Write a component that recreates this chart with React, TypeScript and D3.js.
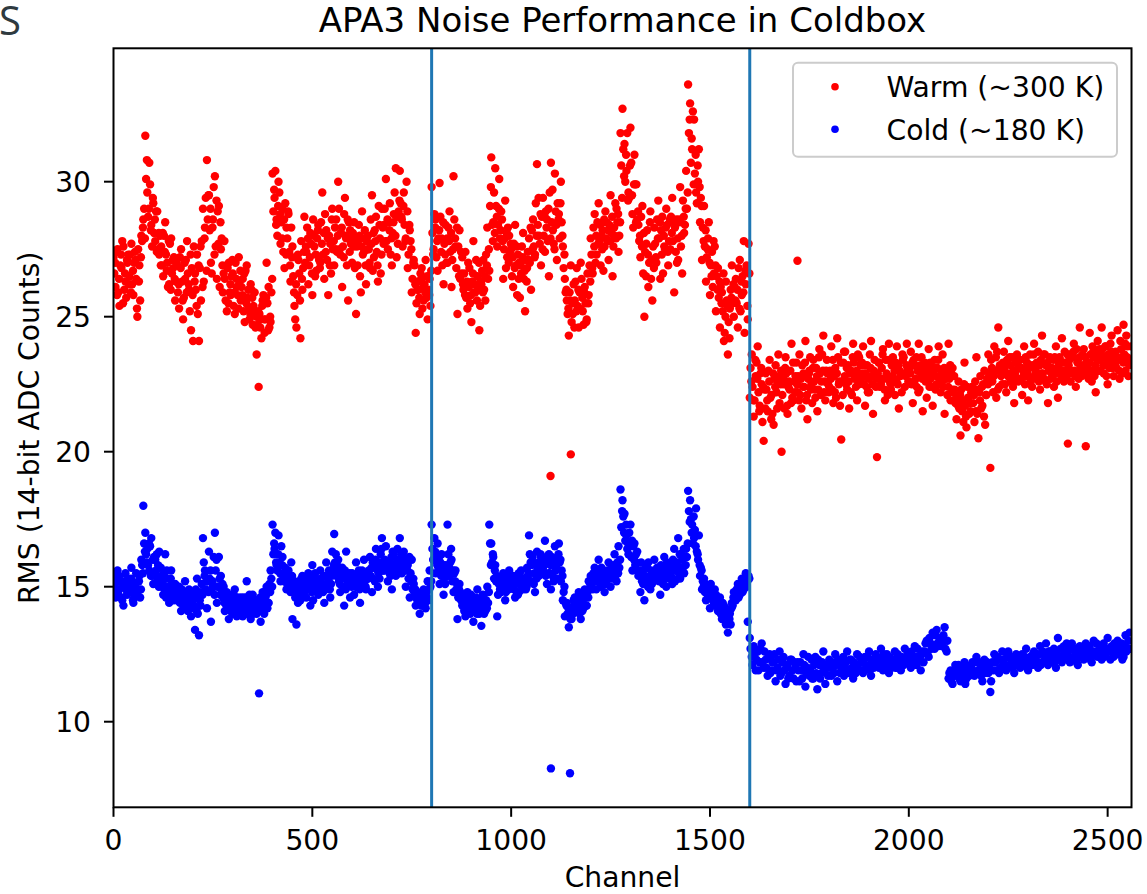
import React from "react";
import * as d3 from "d3";

// ---------- data (RMS noise per channel) ----------
// series A: channels 0, 5, 10, ... ; B: channels 2, 7, 12, ... ; C: channels 4, 9, 14, ...
const CHANNEL_STEP = 5;
const CHANNEL_OFFSET_B = 2;
const CHANNEL_OFFSET_C = 4;

const warmValues: number[] = [
  27.2, 26.1, 27.5, 25.4, 26.8, 27.6, 26.3, 27.0,
  26.5, 27.7, 25.8, 27.1, 25.0, 26.9, 28.0, 28.6,
  31.7, 29.6, 30.7, 28.4, 29.2, 27.8, 28.9, 27.3,
  27.6, 26.5, 28.5, 27.0, 26.2, 27.9, 26.8, 25.6,
  26.9, 25.3, 27.5, 24.9, 26.4, 27.8, 26.0, 24.5,
  24.1, 26.6, 27.3, 24.1, 25.6, 29.0, 28.3, 30.8,
  29.5, 27.0, 28.6, 30.2, 26.4, 29.1, 27.5, 25.9,
  26.4, 25.2, 27.0, 25.8, 26.6, 25.1, 26.1, 27.2,
  25.6, 26.4, 24.8, 26.9, 25.3, 26.2, 24.7, 25.9,
  23.6, 22.4, 24.9, 25.6, 24.4, 27.0, 26.1, 24.8,
  30.3, 29.4, 28.6, 30.0, 27.7, 29.0, 26.8, 28.3,
  28.8, 26.3, 27.6, 25.4, 24.6, 27.1, 24.2, 26.0,
  28.7, 27.4, 26.2, 28.1, 25.8, 27.6, 26.7, 28.4,
  27.0, 29.6, 26.4, 28.2, 25.8, 27.7, 29.0, 26.9,
  28.6, 30.0, 27.3, 26.1, 28.8, 27.9, 25.6, 28.2,
  27.0, 28.5, 25.1, 27.8, 26.5, 28.9, 27.4, 26.2,
  28.0, 26.8, 29.5, 27.2, 28.7, 26.3, 27.9, 29.0,
  28.4, 30.1, 27.5, 29.2, 26.9, 28.8, 30.5, 27.7,
  30.4, 28.6, 29.6, 27.9, 26.8, 28.2, 25.9, 27.1,
  24.4, 26.3, 25.1, 26.8, 25.6, 27.1, 24.9, 26.4,
  29.8, 27.5, 28.6, 26.7, 29.95, 27.9, 26.2, 28.4,
  27.0, 28.9, 26.1, 30.2, 27.6, 25.1, 28.2, 26.6,
  26.0, 27.4, 25.3, 26.8, 24.8, 27.8, 25.9, 26.5,
  24.5, 26.2, 27.1, 25.6, 28.3, 26.7, 30.9, 28.5,
  30.5, 27.6, 30.1, 28.9, 26.4, 29.3, 27.2, 28.0,
  27.5, 26.1, 28.4, 25.8, 27.0, 26.6, 28.1, 25.2,
  26.8, 27.9, 26.0, 28.6, 27.3, 30.65, 28.0, 26.9,
  29.4, 27.4, 28.6, 26.5, 30.7, 28.2, 30.3, 27.1,
  28.8, 30.0, 27.6, 26.4, 25.6, 24.3, 26.9, 25.1,
  25.6, 26.8, 24.6, 27.0, 25.2, 26.1, 24.9, 25.8,
  27.9, 26.6, 28.8, 27.3, 29.2, 26.9, 28.2, 27.6,
  28.5, 27.1, 29.5, 26.5, 28.0, 29.0, 27.4, 31.8,
  32.7, 31.4, 30.4, 29.6, 32.0, 28.8, 31.0, 29.9,
  28.4, 27.2, 29.1, 25.0, 27.7, 26.1, 28.9, 25.6,
  28.3, 27.0, 29.3, 26.4, 28.7, 27.6, 29.0, 26.9,
  27.5, 29.4, 25.9, 28.6, 27.1, 29.8, 26.6, 28.1,
  30.4, 33.6, 32.9, 31.2, 32.3, 29.6, 30.0, 28.5,
  27.1, 29.1, 26.3, 27.9, 25.8, 27.4, 26.6, 25.2,
  26.8, 24.6, 25.9, 24.1, 26.3, 23.6, 25.3, 26.9,
  25.0, 26.4, 24.6, 27.1, 25.8, 27.8, 26.2, 24.9,
  22.0, 23.6, 21.3, 22.8, 23.9, 21.7, 22.5, 20.4,
  22.9, 21.5, 23.4, 22.1, 21.0, 23.2, 22.6, 21.8,
  20.0, 22.7, 23.5, 21.4, 22.3, 24.0, 21.9, 22.8,
  22.2, 23.6, 21.6, 22.9, 24.1, 21.2, 23.0, 22.5,
  23.4, 22.0, 21.5, 23.8, 22.6, 24.3, 21.9, 22.9,
  22.4, 23.9, 21.8, 23.1, 24.2, 22.6, 20.45, 23.3,
  23.7, 22.3, 21.6, 23.0, 24.0, 22.8, 21.9, 23.5,
  22.7, 23.9, 21.7, 23.2, 22.2, 24.1, 21.4, 22.9,
  19.8, 23.3, 22.5, 23.8, 21.9, 22.8, 24.0, 22.3,
  23.5, 22.1, 23.9, 21.6, 22.9, 23.4, 22.4, 24.0,
  22.6, 23.7, 21.8, 23.2, 22.4, 24.0, 22.9, 21.5,
  23.3, 22.0, 23.8, 22.7, 21.7, 23.4, 22.5, 23.9,
  22.2, 23.6, 21.4, 22.8, 24.0, 21.9, 23.1, 22.3,
  21.2, 22.6, 20.6, 21.9, 23.3, 20.9, 22.0, 21.5,
  22.4, 21.1, 23.5, 20.5, 22.8, 21.7, 23.0, 22.1,
  23.6, 19.4, 22.6, 23.9, 22.0, 24.6, 23.1, 22.5,
  23.0, 22.2, 24.1, 22.7, 23.5, 21.8, 23.3, 22.6,
  23.4, 22.1, 23.9, 22.8, 21.9, 23.6, 22.4, 24.0,
  22.9, 23.7, 22.3, 24.3, 22.7, 23.2, 21.8, 23.5,
  23.1, 22.4, 23.9, 22.0, 23.4, 24.2, 22.6, 23.3,
  20.3, 23.6, 22.9, 24.0, 22.4, 23.3, 24.6, 22.8,
  23.8, 20.2, 23.1, 24.4, 22.6, 23.5, 22.2, 24.1,
  23.4, 24.6, 22.9, 23.9, 22.5, 23.2, 24.3, 22.8,
  23.7, 24.5, 22.7, 23.5, 24.7, 23.0, 23.9, 23.3,
];

const warmValuesB: number[] = [
  26.6, 27.4, 25.9, 26.9, 27.8, 26.0, 25.7, 27.3,
  27.3, 26.2, 27.0, 26.4, 27.5, 25.6, 27.8, 29.0,
  30.1, 28.7, 29.9, 27.6, 28.1, 28.9, 27.5, 28.0,
  26.9, 28.0, 27.3, 26.1, 27.7, 26.6, 27.2, 26.3,
  25.9, 27.2, 26.3, 25.7, 27.1, 26.6, 25.2, 26.8,
  27.6, 26.0, 25.1, 26.8, 27.8, 26.3, 29.4, 28.6,
  28.2, 26.6, 29.8, 27.6, 28.9, 26.1, 27.9, 26.6,
  25.6, 26.8, 25.9, 26.5, 25.4, 27.0, 25.8, 26.3,
  26.1, 25.2, 26.7, 25.7, 24.9, 26.0, 25.4, 24.6,
  24.7, 25.1, 24.2, 25.8, 24.9, 25.5, 24.6, 25.9,
  28.9, 30.4, 28.0, 29.6, 28.5, 27.4, 29.2, 27.9,
  27.4, 28.3, 26.5, 24.9, 25.8, 26.6, 27.8, 26.8,
  27.0, 28.3, 26.9, 27.7, 28.6, 26.5, 27.9, 27.1,
  28.5, 27.3, 28.8, 27.1, 28.0, 26.6, 27.5, 28.3,
  27.4, 29.0, 28.1, 27.6, 29.4, 26.9, 28.5, 27.7,
  28.1, 26.8, 27.6, 28.4, 25.9, 27.3, 28.2, 27.8,
  27.5, 28.6, 26.7, 28.2, 27.4, 29.1, 26.6, 28.3,
  29.0, 27.8, 28.5, 27.3, 28.1, 29.6, 27.2, 28.9,
  29.2, 27.6, 28.4, 30.0, 27.3, 27.8, 26.4, 26.9,
  25.5, 26.0, 26.6, 25.3, 26.2, 25.7, 26.0, 25.4,
  28.1, 28.8, 27.2, 27.9, 28.7, 26.9, 27.7, 27.0,
  28.3, 27.4, 27.1, 28.6, 26.8, 27.6, 26.4, 27.2,
  26.6, 25.7, 27.0, 25.5, 26.3, 25.9, 27.1, 26.0,
  25.4, 26.7, 26.0, 27.3, 26.4, 29.1, 28.4, 29.6,
  29.1, 28.4, 27.9, 28.6, 27.5, 26.8, 28.3, 27.4,
  26.5, 27.7, 26.9, 27.3, 25.7, 27.6, 26.4, 27.1,
  27.4, 27.0, 28.2, 27.6, 29.2, 28.4, 27.7, 28.7,
  28.0, 28.9, 27.8, 29.6, 28.5, 27.7, 28.9, 29.2,
  27.9, 28.5, 26.8, 25.9, 25.1, 25.9, 24.8, 26.2,
  26.3, 25.4, 25.9, 26.4, 24.7, 25.5, 26.6, 26.9,
  27.3, 28.3, 27.0, 28.5, 27.8, 28.0, 26.7, 28.9,
  27.8, 28.4, 28.1, 27.6, 29.2, 28.5, 28.0, 30.6,
  31.2, 30.0, 31.8, 29.4, 30.7, 28.3, 29.9, 28.6,
  27.8, 28.7, 26.6, 27.4, 28.2, 27.0, 26.4, 27.6,
  27.7, 28.6, 27.9, 28.2, 26.6, 27.5, 28.4, 27.8,
  28.7, 27.8, 28.3, 27.0, 28.6, 27.6, 29.3, 28.4,
  29.0, 31.8, 30.7, 32.6, 30.3, 29.2, 31.2, 29.4,
  28.3, 27.6, 27.2, 28.5, 26.9, 26.1, 27.6, 26.5,
  25.7, 26.1, 25.2, 24.4, 25.6, 24.8, 26.0, 25.5,
  26.1, 25.5, 26.8, 25.2, 26.5, 24.4, 26.9, 27.7,
  23.1, 22.4, 21.9, 23.3, 22.2, 22.9, 21.1, 22.3,
  22.3, 23.0, 22.0, 21.4, 22.7, 22.2, 23.6, 22.5,
  22.1, 21.6, 22.9, 22.4, 23.0, 22.0, 22.6, 23.3,
  22.8, 22.1, 23.2, 22.4, 21.9, 22.7, 23.5, 21.8,
  22.6, 23.1, 22.3, 22.9, 23.6, 22.2, 23.0, 22.5,
  23.0, 22.3, 22.8, 22.0, 23.5, 21.7, 22.6, 23.7,
  22.5, 23.2, 22.9, 22.1, 23.3, 22.4, 23.6, 22.7,
  23.3, 22.5, 22.9, 22.2, 23.6, 22.8, 23.0, 22.4,
  22.9, 22.4, 23.1, 22.7, 23.4, 22.1, 22.6, 23.2,
  22.7, 23.3, 22.5, 23.0, 22.2, 23.5, 22.8, 23.1,
  23.1, 22.5, 23.4, 22.7, 23.0, 22.3, 23.5, 22.8,
  22.6, 23.2, 22.4, 23.0, 22.9, 22.3, 23.1, 22.7,
  22.9, 22.4, 23.0, 22.1, 22.7, 22.9, 22.2, 21.8,
  22.0, 21.6, 22.3, 21.1, 21.7, 22.4, 21.4, 22.2,
  21.8, 22.6, 21.4, 22.2, 21.6, 22.5, 21.0, 22.7,
  22.9, 23.4, 22.2, 23.0, 23.7, 22.4, 22.8, 23.3,
  22.5, 23.4, 22.9, 23.2, 22.4, 22.9, 23.6, 23.1,
  22.7, 23.0, 22.5, 23.3, 23.1, 22.6, 23.2, 22.8,
  23.3, 22.6, 23.4, 22.9, 23.6, 22.5, 23.0, 22.7,
  22.8, 23.5, 22.6, 23.2, 22.9, 23.0, 23.7, 22.8,
  23.2, 22.6, 23.5, 23.0, 23.8, 22.7, 23.1, 23.6,
  22.9, 23.3, 22.7, 23.6, 23.9, 22.8, 23.6, 23.0,
  23.0, 23.8, 23.5, 22.8, 23.6, 24.0, 23.1, 23.6,
  23.1, 23.4, 24.1, 22.9, 23.6, 24.3, 22.8, 23.4,
];

const warmValuesC: number[] = [
  27.0, 25.8, 26.4, 27.3, 25.5, 26.6, 27.1, 26.2,
  25.9, 26.7, 27.4, 25.3, 26.3, 27.2, 28.3, 27.9,
  30.8, 29.0, 28.2, 29.4, 28.6, 27.4, 28.1, 26.9,
  28.1, 27.4, 26.7, 27.8, 26.0, 27.1, 26.4, 27.0,
  26.2, 26.8, 25.6, 27.0, 25.9, 26.2, 27.3, 25.8,
  26.3, 25.4, 26.9, 27.6, 26.1, 27.9, 26.7, 29.5,
  29.0, 28.3, 27.3, 29.3, 27.7, 28.5, 26.9, 27.8,
  26.9, 25.5, 26.2, 27.1, 25.9, 26.4, 25.3, 26.7,
  25.8, 26.6, 25.5, 26.0, 25.1, 25.7, 25.2, 25.0,
  25.2, 24.6, 25.4, 24.9, 25.7, 24.5, 25.0, 26.4,
  29.7, 28.4, 29.1, 28.8, 27.9, 28.6, 27.3, 28.9,
  26.9, 27.2, 25.9, 26.2, 27.3, 25.6, 26.4, 27.4,
  27.6, 27.9, 27.2, 26.6, 28.0, 27.3, 28.2, 26.8,
  27.7, 28.1, 27.4, 27.9, 26.9, 28.6, 27.8, 27.5,
  28.0, 27.5, 28.3, 27.2, 28.0, 28.6, 27.4, 27.9,
  27.6, 27.9, 26.9, 28.0, 27.6, 27.9, 26.9, 27.5,
  27.0, 27.7, 28.1, 27.8, 26.9, 28.4, 27.3, 27.7,
  27.8, 28.6, 28.2, 27.9, 28.5, 28.0, 28.7, 29.3,
  28.7, 29.1, 27.8, 28.9, 28.4, 27.5, 27.0, 26.2,
  26.0, 25.7, 26.4, 26.1, 25.9, 26.5, 25.8, 26.7,
  27.3, 28.3, 27.8, 28.2, 27.4, 28.5, 27.3, 27.9,
  27.8, 28.1, 27.5, 27.9, 28.3, 26.5, 27.4, 26.2,
  25.8, 26.3, 26.1, 25.8, 26.6, 26.2, 25.6, 27.0,
  26.3, 25.9, 26.5, 26.9, 27.5, 29.8, 27.8, 28.1,
  28.7, 29.0, 28.2, 27.8, 27.9, 28.1, 27.0, 27.7,
  27.2, 26.8, 27.6, 26.4, 26.9, 27.2, 26.7, 26.3,
  27.1, 28.3, 27.5, 27.2, 28.0, 29.4, 28.8, 27.5,
  28.7, 28.3, 29.0, 27.9, 29.7, 27.5, 28.4, 28.6,
  29.2, 28.0, 27.3, 26.0, 25.3, 25.6, 25.5, 24.6,
  25.2, 26.0, 25.3, 25.7, 25.9, 24.8, 25.5, 26.3,
  26.8, 27.6, 28.0, 27.7, 28.4, 27.5, 28.6, 27.9,
  28.2, 27.8, 28.7, 28.3, 27.9, 28.8, 28.5, 29.4,
  30.2, 31.0, 29.3, 30.6, 29.5, 29.9, 28.5, 28.9,
  28.0, 27.6, 28.1, 26.5, 27.3, 28.5, 27.1, 26.8,
  27.2, 27.9, 28.5, 27.3, 28.0, 28.3, 27.4, 28.6,
  28.1, 28.5, 27.4, 27.9, 28.5, 28.0, 28.7, 29.0,
  29.6, 32.3, 31.6, 29.9, 31.0, 30.6, 29.8, 29.1,
  27.8, 28.2, 27.5, 27.0, 26.5, 27.8, 26.9, 26.0,
  26.3, 25.5, 26.6, 25.0, 25.4, 24.2, 25.7, 26.2,
  25.6, 26.0, 25.3, 26.3, 25.9, 26.7, 25.4, 26.6,
  22.6, 21.9, 23.4, 22.7, 21.5, 23.1, 22.4, 21.6,
  21.9, 22.6, 21.2, 22.9, 22.4, 21.6, 22.8, 23.0,
  22.5, 23.1, 21.7, 22.6, 21.8, 23.3, 22.2, 22.5,
  21.9, 22.7, 22.4, 23.3, 22.1, 22.9, 22.3, 23.1,
  22.3, 22.8, 23.5, 22.1, 23.0, 22.6, 23.4, 22.2,
  22.7, 23.4, 22.2, 22.9, 22.5, 23.3, 22.1, 22.8,
  23.1, 22.6, 22.2, 23.5, 22.7, 23.0, 22.5, 23.2,
  22.9, 23.2, 22.4, 22.7, 23.1, 22.5, 23.4, 22.7,
  23.3, 22.7, 23.6, 22.3, 22.9, 23.4, 22.5, 22.8,
  23.0, 22.6, 23.2, 22.8, 23.6, 22.9, 23.2, 22.6,
  22.9, 23.3, 22.6, 23.5, 22.2, 23.2, 22.7, 23.1,
  22.9, 22.6, 23.3, 22.4, 23.1, 22.8, 23.4, 22.5,
  22.6, 23.1, 22.7, 22.4, 23.2, 22.3, 22.8, 22.0,
  21.7, 22.1, 21.5, 22.5, 21.3, 22.0, 21.8, 22.4,
  22.1, 21.5, 22.3, 21.9, 22.4, 21.3, 22.1, 22.5,
  22.6, 23.1, 22.8, 23.5, 22.3, 23.2, 22.9, 23.7,
  23.2, 22.8, 23.5, 22.6, 23.0, 23.3, 22.7, 23.4,
  23.1, 22.8, 23.5, 22.9, 23.2, 22.7, 23.6, 23.0,
  22.8, 23.2, 22.9, 23.6, 22.6, 23.3, 23.1, 22.9,
  23.4, 22.9, 23.1, 23.5, 22.7, 23.3, 23.0, 23.6,
  23.4, 23.0, 23.7, 22.8, 23.3, 23.5, 22.9, 23.2,
  23.5, 22.9, 23.3, 23.0, 23.7, 23.2, 23.4, 23.8,
  23.6, 23.2, 23.9, 23.4, 23.1, 23.7, 23.4, 23.2,
  23.5, 23.0, 23.8, 23.3, 24.0, 23.5, 23.2, 23.9,
];

const coldValues: number[] = [
  15.3, 14.6, 15.6, 14.9, 15.2, 14.3, 15.5, 14.8,
  15.0, 15.7, 14.4, 15.1, 14.7, 15.4, 16.0, 18.0,
  17.0, 16.4, 15.6, 16.8, 15.1, 16.0, 15.3, 16.3,
  15.4, 14.7, 16.2, 15.0, 14.4, 15.6, 14.8, 15.1,
  14.5, 15.0, 14.1, 14.7, 15.2, 14.3, 14.9, 13.9,
  14.6, 13.4, 15.3, 13.2, 14.8, 16.8, 15.6, 14.2,
  16.3, 13.7, 15.0, 17.0, 14.4, 16.1, 15.4, 14.6,
  14.1, 14.8, 13.8, 14.5, 14.0, 14.9, 13.9, 14.4,
  14.6, 13.9, 14.3, 15.2, 14.1, 13.8, 14.7, 14.2,
  14.0, 14.5, 13.7, 14.8, 14.2, 15.0, 14.4, 15.6,
  17.3, 16.4, 15.8, 16.9, 15.2, 16.1, 15.5, 14.9,
  15.6, 14.8, 13.8, 15.2, 13.6, 15.0, 14.5, 15.4,
  15.1, 14.6, 15.5, 14.3, 15.8, 14.9, 15.3, 14.7,
  15.6, 15.0, 14.4, 15.9, 15.2, 14.6, 16.3, 16.95,
  15.4, 16.0, 14.8, 15.7, 14.3, 16.3, 15.1, 14.6,
  15.5, 14.7, 15.9, 15.2, 14.4, 15.6, 16.0, 14.9,
  15.3, 16.1, 14.8, 15.7, 16.4, 15.0, 15.9, 16.8,
  15.6, 16.5, 15.2, 15.9, 14.9, 16.2, 15.4, 16.0,
  16.8, 15.5, 16.3, 15.0, 15.8, 14.6, 16.0, 15.1,
  14.3, 14.8, 14.0, 14.6, 14.9, 14.2, 15.2, 15.6,
  17.3, 16.0, 15.5, 16.6, 15.1, 16.2, 14.7, 15.8,
  17.3, 15.4, 16.0, 14.8, 15.6, 13.8, 15.1, 14.6,
  14.4, 13.9, 14.8, 14.2, 14.6, 13.7, 14.3, 14.9,
  14.0, 13.55, 14.6, 14.1, 15.0, 17.3, 16.6, 16.1,
  15.8, 13.9, 15.3, 14.8, 15.5, 14.5, 15.1, 15.6,
  15.0, 15.4, 14.6, 15.2, 14.8, 15.6, 14.9, 15.3,
  15.7, 16.9, 15.2, 15.9, 14.8, 16.3, 15.4, 16.1,
  15.6, 16.7, 15.1, 16.2, 14.9, 15.8, 16.5, 15.3,
  16.6, 15.2, 14.5, 13.9, 14.4, 13.5, 14.2, 14.0,
  14.6, 14.1, 14.8, 13.8, 14.5, 14.9, 14.3, 15.2,
  15.4, 14.9, 15.7, 15.2, 16.0, 15.0, 15.5, 14.8,
  15.3, 15.9, 15.0, 15.6, 16.2, 15.2, 16.5, 18.6,
  18.2, 17.7, 16.9, 16.2, 17.3, 15.6, 16.6, 15.9,
  15.4, 14.8, 15.6, 14.5, 15.2, 15.9, 14.9, 15.3,
  16.0, 15.3, 15.7, 14.7, 15.5, 16.1, 15.0, 15.4,
  15.8, 15.1, 16.4, 15.6, 16.8, 15.3, 16.0, 15.5,
  16.4, 18.55, 18.2, 17.3, 16.8, 17.9, 16.0, 15.4,
  14.9, 15.3, 14.5, 14.9, 14.2, 14.8, 14.4, 14.7,
  14.1, 14.6, 13.8, 14.3, 13.6, 13.3, 14.0, 14.4,
  14.8, 14.5, 15.1, 14.7, 15.3, 14.9, 15.5, 13.7,
  13.1, 12.4, 12.8, 11.9, 12.6, 12.2, 12.9, 12.0,
  12.3, 11.7, 12.5, 11.9, 12.2, 11.5, 12.0, 12.6,
  11.8, 12.4, 11.4, 12.1, 11.7, 12.3, 11.6, 12.0,
  12.2, 11.5, 11.9, 12.5, 11.3, 12.0, 11.7, 12.3,
  11.6, 12.4, 11.2, 12.1, 11.8, 12.6, 11.4, 12.0,
  12.3, 11.7, 12.0, 12.5, 11.5, 12.2, 11.9, 12.4,
  12.0, 12.6, 11.8, 12.3, 11.6, 12.1, 12.5, 11.9,
  12.2, 11.8, 12.4, 12.0, 12.6, 11.7, 12.3, 12.1,
  12.4, 12.0, 12.7, 11.9, 12.3, 12.5, 11.8, 12.2,
  12.1, 12.6, 12.0, 12.4, 11.9, 12.3, 12.7, 12.2,
  12.5, 12.0, 12.3, 12.8, 12.1, 12.4, 11.9, 12.6,
  12.6, 13.0, 12.4, 12.9, 13.3, 12.7, 13.4, 12.8,
  13.1, 12.9, 13.5, 12.6, 11.6, 11.9, 11.4, 11.8,
  11.7, 12.1, 11.5, 11.9, 12.2, 11.6, 12.0, 11.8,
  12.2, 11.7, 12.4, 11.9, 12.1, 11.5, 12.3, 12.0,
  11.8, 11.1, 12.2, 12.5, 11.9, 12.3, 12.0, 12.6,
  12.3, 11.9, 12.6, 12.1, 12.4, 11.8, 12.5, 12.2,
  12.0, 12.5, 12.2, 12.7, 11.9, 12.4, 12.1, 12.6,
  12.4, 12.0, 12.8, 12.2, 12.5, 12.9, 12.1, 12.6,
  12.3, 12.7, 12.0, 13.1, 12.4, 12.2, 12.8, 12.5,
  12.6, 12.2, 12.9, 12.4, 12.7, 12.1, 12.8, 12.5,
  12.3, 12.9, 12.5, 12.8, 12.2, 13.0, 12.6, 12.4,
  12.7, 12.3, 12.9, 12.5, 13.1, 12.6, 12.8, 12.4,
  12.6, 13.0, 12.5, 12.9, 12.4, 13.2, 12.7, 13.3,
];

const coldValuesB: number[] = [
  15.0, 15.4, 14.7, 15.2, 14.5, 15.1, 14.9, 15.3,
  14.8, 15.2, 14.6, 15.5, 14.9, 14.6, 15.8, 16.6,
  16.2, 15.8, 16.5, 15.4, 16.1, 15.6, 15.8, 15.2,
  15.0, 15.5, 14.6, 15.3, 14.9, 15.1, 14.5, 14.8,
  14.8, 14.4, 14.9, 14.3, 14.6, 14.1, 14.5, 14.7,
  14.3, 14.9, 14.0, 14.5, 15.1, 15.9, 14.9, 15.2,
  15.3, 14.9, 16.1, 15.6, 15.0, 15.3, 14.8, 15.0,
  14.5, 14.2, 14.6, 14.3, 14.7, 14.2, 14.6, 14.1,
  14.3, 14.6, 14.0, 14.4, 14.7, 14.2, 14.0, 14.5,
  14.4, 14.1, 14.5, 14.3, 14.6, 14.2, 15.1, 15.3,
  16.2, 17.0, 15.6, 15.9, 16.5, 15.4, 15.7, 15.1,
  15.3, 15.9, 15.0, 14.6, 15.1, 14.7, 15.3, 14.9,
  14.9, 15.4, 15.0, 15.2, 14.5, 15.5, 14.8, 15.2,
  15.3, 14.8, 15.4, 15.0, 15.6, 15.1, 15.6, 15.9,
  15.8, 15.2, 15.5, 15.0, 15.6, 15.0, 15.4, 15.2,
  15.1, 15.3, 15.0, 15.6, 15.1, 15.4, 15.2, 15.5,
  15.6, 15.4, 15.9, 15.2, 15.7, 15.5, 16.2, 15.8,
  16.0, 15.7, 15.9, 15.4, 16.3, 15.6, 15.9, 15.5,
  15.9, 16.1, 15.6, 15.8, 15.3, 15.5, 14.9, 14.7,
  14.6, 14.4, 14.7, 14.3, 14.5, 14.8, 14.5, 15.0,
  16.4, 16.8, 16.2, 15.7, 15.9, 15.5, 15.3, 15.6,
  16.2, 15.9, 15.2, 15.5, 14.9, 14.6, 14.8, 14.3,
  14.1, 14.6, 14.3, 14.0, 14.4, 14.2, 14.6, 14.4,
  14.5, 14.2, 14.0, 14.5, 14.4, 16.6, 15.9, 15.3,
  15.2, 14.7, 14.9, 15.1, 15.0, 14.8, 15.4, 15.0,
  15.3, 14.9, 15.1, 14.7, 15.4, 15.0, 15.2, 14.9,
  15.4, 16.2, 15.8, 15.1, 15.5, 15.7, 15.9, 15.5,
  16.0, 15.4, 15.9, 15.5, 16.1, 15.2, 15.6, 15.9,
  15.9, 15.6, 14.8, 14.4, 14.0, 14.2, 13.8, 14.5,
  14.3, 14.6, 14.0, 14.4, 14.2, 14.6, 14.8, 14.9,
  15.0, 15.5, 15.2, 15.6, 15.3, 15.7, 15.1, 15.4,
  15.6, 15.3, 15.8, 15.5, 15.4, 15.9, 15.7, 17.2,
  17.6, 16.7, 16.4, 17.0, 16.1, 16.5, 15.8, 16.3,
  15.5, 15.9, 15.1, 15.4, 15.7, 15.0, 15.6, 15.2,
  15.4, 15.7, 15.2, 15.8, 15.1, 15.6, 15.9, 15.3,
  15.4, 16.0, 15.2, 15.9, 15.5, 16.2, 15.7, 16.1,
  16.1, 17.8, 17.5, 16.6, 17.1, 16.3, 16.9, 15.7,
  15.2, 14.8, 15.0, 14.6, 15.1, 14.5, 14.9, 14.3,
  14.5, 14.0, 14.4, 14.2, 13.9, 14.1, 13.6, 14.3,
  14.5, 14.9, 14.6, 15.0, 14.8, 15.2, 15.0, 15.4,
  12.7, 12.1, 12.5, 12.3, 11.9, 12.7, 12.2, 12.6,
  12.0, 12.4, 11.8, 12.2, 12.5, 11.9, 12.3, 11.7,
  12.2, 11.9, 12.0, 11.6, 12.3, 11.9, 12.2, 11.5,
  11.9, 12.2, 11.6, 12.1, 11.8, 12.4, 11.9, 11.6,
  12.1, 11.8, 12.3, 11.6, 12.2, 11.9, 12.1, 11.7,
  12.0, 12.2, 11.8, 12.1, 12.3, 11.8, 12.1, 11.7,
  12.2, 11.9, 12.3, 12.0, 12.2, 11.8, 12.1, 12.4,
  11.9, 12.3, 12.1, 12.4, 11.9, 12.2, 12.0, 12.5,
  12.1, 12.3, 12.2, 12.5, 12.0, 12.2, 12.4, 12.0,
  12.3, 12.0, 12.5, 12.2, 12.4, 12.1, 12.3, 12.5,
  12.2, 12.6, 12.1, 12.4, 12.7, 12.3, 12.5, 12.2,
  12.9, 12.5, 13.1, 12.7, 12.8, 13.2, 12.9, 13.0,
  12.8, 13.2, 12.7, 13.0, 11.8, 11.5, 11.7, 12.1,
  11.9, 11.6, 12.0, 11.8, 11.4, 12.0, 11.7, 12.1,
  11.9, 12.2, 11.8, 12.2, 11.7, 12.0, 11.8, 12.2,
  12.1, 11.5, 11.9, 12.2, 12.4, 11.8, 12.3, 12.1,
  12.1, 12.4, 12.0, 12.3, 12.0, 12.3, 12.1, 12.4,
  12.3, 12.1, 12.4, 12.0, 12.3, 12.2, 12.5, 12.3,
  12.2, 12.5, 12.1, 12.6, 12.3, 12.4, 12.6, 12.2,
  12.5, 12.2, 12.6, 12.4, 12.7, 12.3, 12.5, 12.9,
  12.4, 12.7, 12.3, 12.6, 12.2, 12.6, 12.4, 12.7,
  12.6, 12.4, 12.7, 12.3, 12.6, 12.5, 12.9, 12.6,
  12.5, 12.8, 12.4, 12.7, 12.6, 12.3, 12.6, 12.9,
  12.8, 12.5, 12.7, 12.3, 12.8, 12.6, 13.0, 12.7,
];

// extra samples for channels 0-1599 (channels 4, 9, 14, ...)
const coldValuesC: number[] = [
  15.1, 14.8, 15.4, 14.6, 15.0, 15.2, 14.7, 15.1,
  15.3, 14.5, 15.0, 14.8, 15.2, 14.9, 15.5, 16.3,
  15.9, 16.6, 15.4, 16.0, 15.5, 16.2, 15.0, 15.7,
  15.2, 14.9, 15.6, 14.7, 15.3, 14.6, 15.0, 14.6,
  14.6, 14.9, 14.5, 14.2, 14.8, 14.5, 14.2, 14.4,
  14.8, 14.1, 14.6, 14.3, 14.7, 15.4, 15.2, 14.8,
  15.6, 15.2, 14.7, 16.0, 15.0, 14.7, 15.1, 14.4,
  14.3, 14.6, 14.1, 14.7, 14.4, 14.1, 14.5, 14.3,
  14.4, 14.2, 14.6, 14.0, 14.3, 14.5, 14.1, 14.3,
  14.2, 14.6, 14.4, 14.0, 14.7, 14.4, 14.8, 15.0,
  16.6, 15.9, 16.2, 15.5, 15.8, 15.2, 15.4, 15.0,
  15.1, 15.4, 14.8, 14.9, 14.4, 15.2, 15.0, 14.7,
  15.2, 14.9, 15.3, 14.8, 15.1, 15.3, 15.0, 14.9,
  15.1, 15.4, 14.9, 15.3, 14.9, 15.4, 15.8, 16.2,
  15.6, 15.1, 15.3, 15.4, 14.9, 15.2, 15.5, 15.0,
  15.3, 15.0, 15.4, 14.9, 15.3, 15.5, 15.0, 15.3,
  15.4, 15.7, 15.3, 16.0, 15.6, 15.3, 16.4, 15.6,
  15.8, 15.9, 15.5, 16.1, 15.7, 15.8, 16.4, 15.7,
  16.2, 15.8, 15.9, 15.6, 16.1, 15.2, 15.3, 14.9,
  14.5, 14.6, 14.3, 14.8, 14.4, 14.6, 14.9, 15.2,
  16.0, 16.3, 15.8, 16.1, 15.4, 15.8, 15.1, 15.4,
  15.7, 16.4, 15.6, 15.2, 15.1, 14.9, 14.5, 14.7,
  14.6, 14.2, 14.5, 14.7, 14.1, 14.4, 14.0, 14.2,
  14.3, 14.7, 14.3, 14.2, 14.8, 15.8, 16.2, 15.6,
  15.4, 15.1, 15.2, 14.9, 15.3, 15.2, 14.9, 15.2,
  15.1, 15.2, 14.8, 15.5, 15.1, 15.3, 15.2, 15.0,
  15.5, 15.9, 16.1, 15.5, 15.3, 15.9, 16.2, 15.7,
  15.8, 16.1, 15.5, 15.8, 15.4, 16.0, 15.7, 16.2,
  16.0, 15.4, 15.0, 14.3, 14.2, 13.8, 14.0, 14.3,
  14.5, 14.3, 14.4, 14.1, 14.7, 14.3, 14.6, 15.0,
  15.2, 15.3, 14.9, 15.4, 15.6, 15.3, 15.2, 15.1,
  15.5, 15.6, 15.3, 15.8, 15.6, 15.5, 16.0, 17.8,
  17.0, 17.3, 16.6, 16.5, 16.7, 16.0, 16.2, 15.6,
  15.6, 15.2, 15.3, 15.7, 15.0, 15.4, 15.1, 15.5,
  15.6, 15.5, 15.4, 15.6, 15.3, 15.8, 15.5, 15.6,
  15.6, 15.7, 15.8, 15.3, 16.2, 15.7, 16.4, 15.8,
  16.6, 17.4, 17.0, 17.6, 16.5, 16.2, 15.8, 15.6,
  15.0, 15.1, 14.7, 14.8, 14.6, 14.7, 14.6, 14.5,
  14.3, 14.2, 14.1, 13.9, 14.0, 13.8, 14.2, 14.6,
  14.7, 14.6, 14.9, 14.8, 15.0, 15.1, 15.2, 15.3,
];

// isolated outlier channels
const warmOutlierChannels = [1099, 1150, 1720];
const warmOutlierValues = [19.1, 19.9, 27.07];
const coldOutlierChannels = [366, 1100, 1148];
const coldOutlierValues = [11.05, 8.27, 8.09];

const boundaryChannels = [800, 1600];
const xTicks = [0, 500, 1000, 1500, 2000, 2500];
const yTicks = [10, 15, 20, 25, 30];
const seriesLabels = ["Warm (~300 K)", "Cold (~180 K)"];
const seriesColors = ["#ff0000", "#0000ff"];

// ---------- layout ----------
const W = 1147;
const H = 894;
const PL = 113.5;
const PR = 1131.5;
const PT = 48.3;
const PB = 807.3;
const FONT = "DejaVu Sans, Verdana, sans-serif";

export default function App() {
  const x = d3.scaleLinear().domain([0, 2560]).range([PL, PR]);
  const y = d3.scaleLinear().domain([6.83, 34.94]).range([PB, PT]);

  const toPts = (vals: number[], offset: number, chs?: number[]) =>
    vals.map((v, i) => ({ c: chs ? chs[i] : i * CHANNEL_STEP + offset, v }));

  const warm = toPts(warmValues, 0)
    .concat(toPts(warmValuesB, CHANNEL_OFFSET_B))
    .concat(toPts(warmValuesC, CHANNEL_OFFSET_C))
    .concat(toPts(warmOutlierValues, 0, warmOutlierChannels));
  const cold = toPts(coldValues, 0)
    .concat(toPts(coldValuesB, CHANNEL_OFFSET_B))
    .concat(toPts(coldValuesC, CHANNEL_OFFSET_C))
    .concat(toPts(coldOutlierValues, 0, coldOutlierChannels));

  const R = 4.2;
  const fs = 28.2;

  return (
    <svg
      width={W}
      height={H}
      style={{ position: "absolute", left: 0, top: 0, display: "block", background: "#fff" }}
      fontFamily={FONT}
    >
      <rect x={0} y={0} width={W} height={H} fill="#fff" />
      {/* partial caption letter at top-left */}
      <text x={-1} y={35} fontSize={40} fontWeight={500} fill="#2f3a3f" fontFamily="Open Sans, DejaVu Sans, sans-serif">S</text>

      {/* title */}
      <text x={(PL + PR) / 2} y={32} textAnchor="middle" fontSize={34} fill="#000">
        APA3 Noise Performance in Coldbox
      </text>

      {/* points */}
      <defs>
        <clipPath id="plotclip">
          <rect x={PL} y={PT} width={PR - PL} height={PB - PT} />
        </clipPath>
      </defs>
      <g clipPath="url(#plotclip)">
        {warm.map((p, i) => (
          <circle key={"w" + i} cx={x(p.c)} cy={y(p.v)} r={R} fill={seriesColors[0]} />
        ))}
        {cold.map((p, i) => (
          <circle key={"c" + i} cx={x(p.c)} cy={y(p.v)} r={R} fill={seriesColors[1]} />
        ))}
        {boundaryChannels.map((c) => (
          <line key={c} x1={x(c)} x2={x(c)} y1={PT} y2={PB} stroke="#1f77b4" strokeWidth={3} />
        ))}
      </g>

      {/* spines */}
      <rect x={PL} y={PT} width={PR - PL} height={PB - PT} fill="none" stroke="#000" strokeWidth={2} />

      {/* x ticks */}
      {xTicks.map((t) => (
        <g key={"xt" + t}>
          <line x1={x(t)} x2={x(t)} y1={PB} y2={PB + 9.5} stroke="#000" strokeWidth={2} />
          <text x={x(t)} y={850} textAnchor="middle" fontSize={fs} fill="#000">
            {t}
          </text>
        </g>
      ))}
      {/* y ticks */}
      {yTicks.map((t) => (
        <g key={"yt" + t}>
          <line x1={PL - 9.5} x2={PL} y1={y(t)} y2={y(t)} stroke="#000" strokeWidth={2} />
          <text x={91} y={y(t) + 10.2} textAnchor="end" fontSize={fs} fill="#000">
            {t}
          </text>
        </g>
      ))}

      {/* axis labels */}
      <text x={(PL + PR) / 2} y={887} textAnchor="middle" fontSize={fs} fill="#000">
        Channel
      </text>
      <text
        transform={`translate(38.5, ${(PT + PB) / 2}) rotate(-90)`}
        textAnchor="middle"
        fontSize={fs}
        fill="#000"
      >
        RMS (14-bit ADC Counts)
      </text>

      {/* legend */}
      <rect x={793} y={62.7} width={324} height={94} rx={5} fill="#fff" fillOpacity={0.8} stroke="#cccccc" strokeWidth={2} />
      {seriesLabels.map((s, i) => (
        <g key={s}>
          <circle cx={835} cy={86.7 + i * 42.6} r={3.8} fill={seriesColors[i]} />
          <text x={886.5} y={97 + i * 42.6} fontSize={fs} fill="#000">
            {s}
          </text>
        </g>
      ))}
    </svg>
  );
}
